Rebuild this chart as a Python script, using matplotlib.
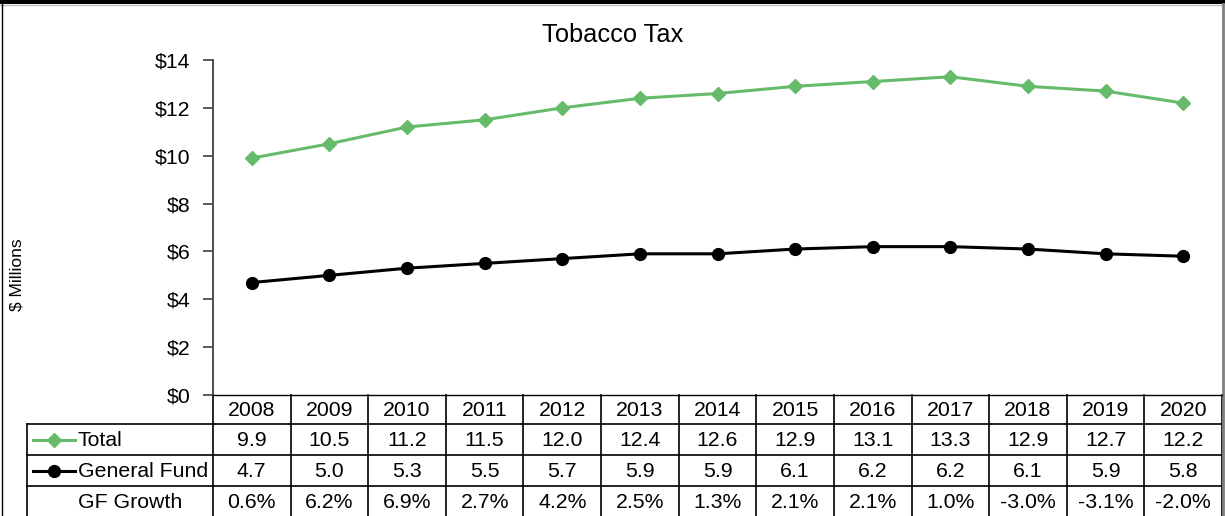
import numpy as np
import matplotlib
matplotlib.use("Agg")
import matplotlib.pyplot as plt
from matplotlib.transforms import blended_transform_factory
from matplotlib.lines import Line2D

plt.rcParams['font.family'] = ['Liberation Sans', 'DejaVu Sans']

years = ["2008", "2009", "2010", "2011", "2012", "2013", "2014",
         "2015", "2016", "2017", "2018", "2019", "2020"]
total = [9.9, 10.5, 11.2, 11.5, 12.0, 12.4, 12.6, 12.9, 13.1, 13.3, 12.9, 12.7, 12.2]
general_fund = [4.7, 5.0, 5.3, 5.5, 5.7, 5.9, 5.9, 6.1, 6.2, 6.2, 6.1, 5.9, 5.8]
gf_growth = ["0.6%", "6.2%", "6.9%", "2.7%", "4.2%", "2.5%", "1.3%",
             "2.1%", "2.1%", "1.0%", "-3.0%", "-3.1%", "-2.0%"]
yticks = [0, 2, 4, 6, 8, 10, 12, 14]

GREEN = "#66BB6A"
FS = 15.3
W, H = 1225, 516
fig = plt.figure(figsize=(W / 100, H / 100), dpi=100)

ax_left, ax_right, ax_top, ax_bot = 213, 1222, 60, 395
ax = fig.add_axes([ax_left / W, 1 - ax_bot / H, (ax_right - ax_left) / W, (ax_bot - ax_top) / H])
x = np.arange(len(years))
ax.plot(x, total, color=GREEN, marker='D', ms=7.5, lw=2.2, clip_on=False, zorder=3)
ax.plot(x, general_fund, color='black', marker='o', ms=8.5, lw=2.2, clip_on=False, zorder=3)
ax.set_xlim(-0.5, len(years) - 0.5)
ax.set_ylim(0, 14)
ax.set_yticks(yticks)
ax.set_yticklabels([f"${v}" for v in yticks], fontsize=FS)
ax.set_xticks([])
for s in ['top', 'right']:
    ax.spines[s].set_visible(False)
ax.spines['left'].set_color('#404040')
ax.spines['left'].set_linewidth(1.3)
ax.spines['bottom'].set_color('black')
ax.spines['bottom'].set_linewidth(1.0)
ax.tick_params(axis='y', direction='out', length=7, width=1.2, color='#404040', pad=9)
ax.patch.set_alpha(0)

# overlay axes in pixel coordinates for table and frame
tax = fig.add_axes([0, 0, 1, 1], zorder=-1)
tax.set_xlim(0, W)
tax.set_ylim(H, 0)
tax.axis('off')

row_bounds = [395, 424, 455, 486, 516]
colw = (ax_right - ax_left) / len(years)
lab_left = 27
lk = dict(color='black', lw=1.2)
for yb in row_bounds[1:4]:
    tax.plot([lab_left, ax_right], [yb, yb], **lk)
for i in range(len(years) + 1):
    xb = ax_left + i * colw
    tax.plot([xb, xb], [395, 516], **lk)
tax.plot([lab_left, lab_left], [424, 516], **lk)

bt = blended_transform_factory(ax.transData, tax.transData)
centers = [(row_bounds[i] + row_bounds[i + 1]) / 2 for i in range(4)]
rows = [years, [f"{v:.1f}" for v in total], [f"{v:.1f}" for v in general_fund], gf_growth]
for r, vals in enumerate(rows):
    for i, v in enumerate(vals):
        tax.text(x[i], centers[r] + 1, v, transform=bt, ha='center', va='center', fontsize=FS)

labels = ["Total", "General Fund", "GF Growth"]
for r, lab in enumerate(labels):
    yc = centers[r + 1]
    tax.text(78, yc + 1, lab, ha='left', va='center', fontsize=FS)
tax.add_line(Line2D([33, 75], [centers[1], centers[1]], color=GREEN, lw=2.2))
tax.plot([54], [centers[1]], marker='D', ms=7.5, color=GREEN)
tax.add_line(Line2D([33, 75], [centers[2], centers[2]], color='black', lw=2.2))
tax.plot([54], [centers[2]], marker='o', ms=8.5, color='black')

fig.text(613 / W, 1 - 35 / H, "Tobacco Tax", ha='center', va='center', fontsize=18.3)
fig.text(17 / W, 1 - 275 / H, "$ Millions", ha='center', va='center', rotation=90, fontsize=12.5)

tax.add_patch(plt.Rectangle((0, 0), W, 4, color='black', lw=0))
tax.plot([0, W], [5, 5], color='#bfbfbf', lw=1)
tax.plot([2, 2], [4, H], color='black', lw=1)
tax.plot([1222.5, 1222.5], [4, H], color='#808080', lw=2)

fig.savefig("out.png", dpi=100)
